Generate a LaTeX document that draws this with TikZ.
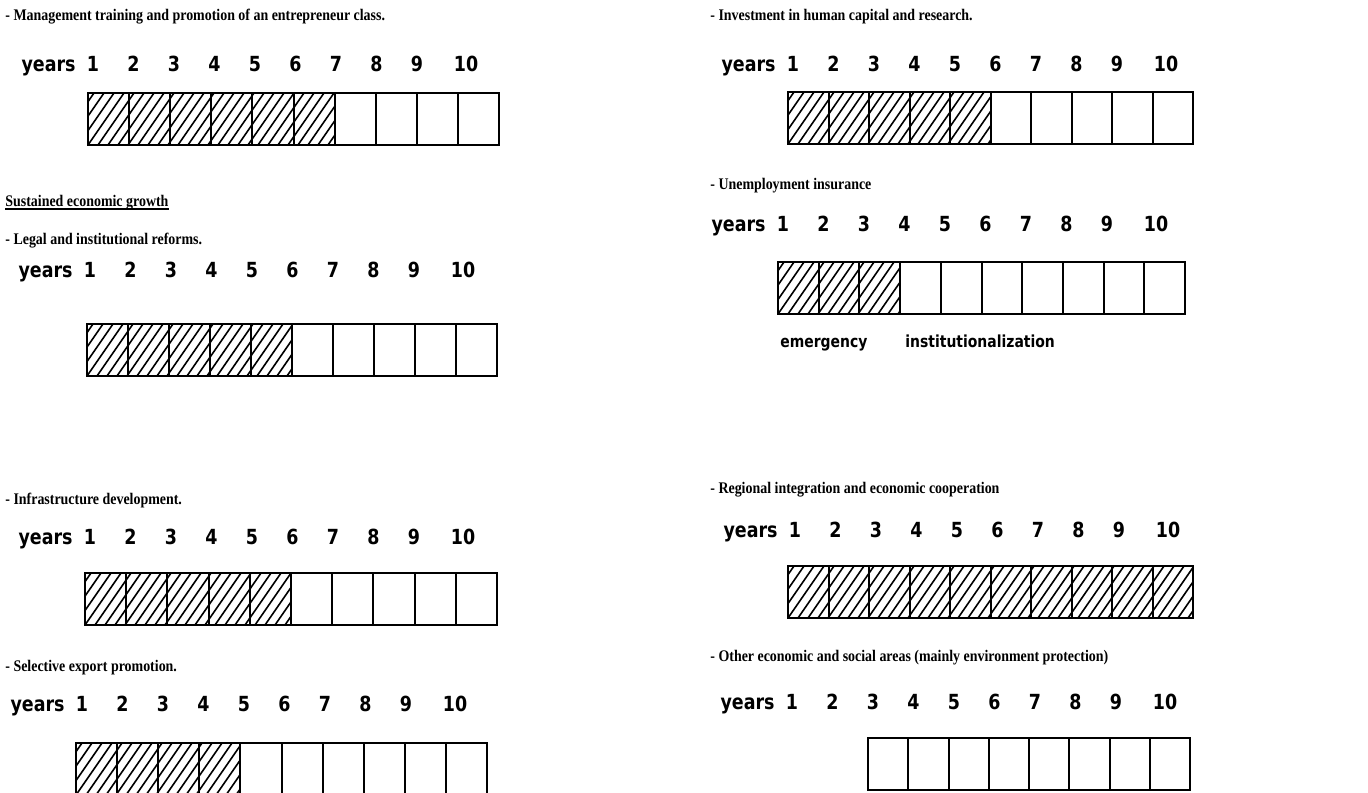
\documentclass[tikz,border=0pt]{standalone}
\usepackage{fontspec}
\setmainfont{Liberation Serif}
\newfontfamily\itemfont[FakeStretch=0.86]{Liberation Serif}
\newfontfamily\plotfont[FakeStretch=0.84]{DejaVu Sans}

\tikzset{
  itemtext/.style={anchor=base west,inner sep=0pt,font=\itemfont\bfseries\fontsize{8.1}{10}\selectfont},
  yearlbl/.style={anchor=base,inner sep=0pt,font=\plotfont\bfseries\fontsize{10.4}{12}\selectfont},
  phaselbl/.style={anchor=base west,inner sep=0pt,font=\plotfont\bfseries\fontsize{8.3}{10}\selectfont},
  hatchline/.style={line width=0.8pt},
  cellline/.style={line width=1pt},
  frameline/.style={line width=1.4pt}
}

% years row: name, x of year 1, baseline
\newcommand{\yearrow}[3]{%
  \node[yearlbl,anchor=base east] (#1y) at ({#2-17},#3) {years};
  \foreach \k in {1,...,9}
    \node[yearlbl] (#1\k) at ({#2+(\k-1)*40.5},#3) {\k};
  \node[yearlbl] (#110) at ({#2+8*40.5+49},#3) {10};
}
% cells: left, top, cell width, first year, last year
\newcommand{\cellrow}[5]{%
  \foreach \c in {#4,...,#5}
    \draw[cellline] ({#1+(\c-#4)*#3},#2) rectangle +(#3,52);
  \draw[frameline] (#1,#2) rectangle +({(#5-#4+1)*#3},52);
}
% hatching: left, top, cell width, number of cells
\newcommand{\hatchrow}[4]{%
  \begin{scope}
    \clip (#1,#2) rectangle +({#4*#3},52);
    \foreach \s in {-40,-30,...,420}
      \draw[hatchline] ({#1+\s},{#2+52}) -- +(36,-52);
  \end{scope}
}

\begin{document}
\begin{tikzpicture}[x=0.5pt,y=-0.5pt]
  \useasboundingbox (0,0) rectangle (1368,792);

  % left column
  \node[itemtext] (mgt) at (5,21) {- Management training and promotion of an entrepreneur class.};
  \yearrow{mgt}{93}{72}
  \hatchrow{88}{93}{41.1}{6}
  \cellrow{88}{93}{41.1}{1}{10}

  \node[itemtext] (growth) at (5,206) {Sustained economic growth};
  \draw[line width=0.6pt] ([yshift=-1.5pt]growth.base west) -- ([yshift=-1.5pt]growth.base east);

  \node[itemtext] (legal) at (5,244) {- Legal and institutional reforms.};
  \yearrow{legal}{90}{277}
  \hatchrow{87}{324}{41}{5}
  \cellrow{87}{324}{41}{1}{10}

  \node[itemtext] (infra) at (5,504) {- Infrastructure development.};
  \yearrow{infra}{90}{544}
  \hatchrow{85}{573}{41.2}{5}
  \cellrow{85}{573}{41.2}{1}{10}

  \node[itemtext] (export) at (5,671) {- Selective export promotion.};
  \yearrow{export}{82}{711}
  \hatchrow{76}{743}{41.1}{4}
  \cellrow{76}{743}{41.1}{1}{10}

  % right column
  \node[itemtext] (human) at (710,21) {- Investment in human capital and research.};
  \yearrow{human}{793}{72}
  \hatchrow{788}{92}{40.5}{5}
  \cellrow{788}{92}{40.5}{1}{10}

  \node[itemtext] (unemp) at (710,189) {- Unemployment insurance};
  \yearrow{unemp}{783}{231}
  \hatchrow{778}{262}{40.7}{3}
  \cellrow{778}{262}{40.7}{1}{10}
  \node[phaselbl] (emerg) at (780,347) {emergency};
  \node[phaselbl] (inst) at (905,347) {institutionalization};

  \node[itemtext] (region) at (710,493) {- Regional integration and economic cooperation};
  \yearrow{region}{795}{537}
  \hatchrow{788}{566}{40.5}{10}
  \cellrow{788}{566}{40.5}{1}{10}

  \node[itemtext] (other) at (710,661) {- Other economic and social areas (mainly environment protection)};
  \yearrow{other}{792}{709}
  \cellrow{868}{738}{40.25}{3}{10}
\end{tikzpicture}
\end{document}
